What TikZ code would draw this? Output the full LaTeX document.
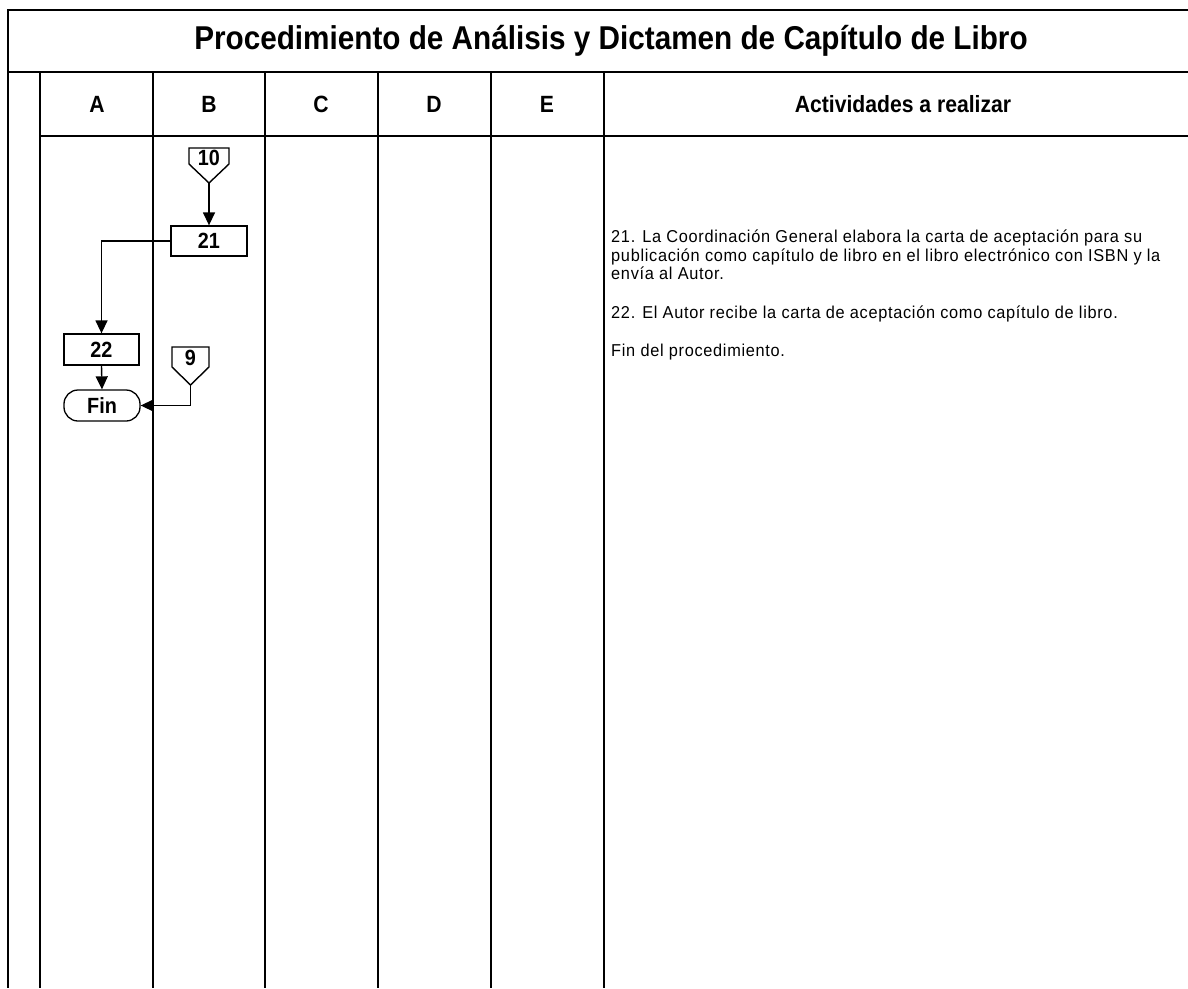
\documentclass[tikz,border=0pt]{standalone}
\usepackage{fontspec}
\setmainfont{Liberation Sans}
\newfontfamily\narrowfont{Liberation Sans}[FakeStretch=0.9]
\newfontfamily\bodyfont{Liberation Sans}[FakeStretch=0.95,LetterSpace=4]
\usetikzlibrary{arrows.meta,positioning}
\tikzset{
  frame/.style={line width=1.8pt,black},
  conn/.style={line width=1.4pt,black},
  arr/.style={conn,-{Triangle[length=13pt,width=12pt]}},
  boxnode/.style={draw,line width=1.3pt,minimum width=76pt,minimum height=30pt,inner sep=0pt,font=\narrowfont\fontsize{22}{22}\selectfont\bfseries},
  finnode/.style={boxnode,rounded corners=14pt},
  lbl/.style={inner sep=0pt,font=\narrowfont\fontsize{22}{22}\selectfont\bfseries},
  hdr/.style={inner sep=0pt,font=\narrowfont\fontsize{23.5}{23.5}\selectfont\bfseries},
  ttl/.style={inner sep=0pt,font=\narrowfont\fontsize{33}{33}\selectfont\bfseries},
  body/.style={inner sep=0pt,anchor=north west,align=left,font=\bodyfont\fontsize{17.2}{18.8}\selectfont}
}
\begin{document}
\begin{tikzpicture}[x=1pt,y=-1pt]
\useasboundingbox[fill=white] (0,0) rectangle (1188,988);
% frame
\draw[frame] (1188,10) -- (8,10) -- (8,988);
\draw[frame] (8,72) -- (1188,72);
\draw[frame] (40,136) -- (1188,136);
\foreach \x in {40,153,265,378,491,604} \draw[frame] (\x,72) -- (\x,988);
% title and headers
\node[ttl] (title) at (611,41) {Procedimiento de Análisis y Dictamen de Capítulo de Libro};
\node[hdr] (hA) at (97,104) {A};
\node[hdr] (hB) at (209,104) {B};
\node[hdr] (hC) at (321,104) {C};
\node[hdr] (hD) at (434,104) {D};
\node[hdr] (hE) at (547,104) {E};
\node[hdr] (hAct) at (903,104) {Actividades a realizar};
% off-page connector 10
\coordinate (t10) at (209,183);
\draw[conn,fill=white] (189,148) -- (229,148) -- (229,164) -- (t10) -- (189,164) -- cycle;
\node[lbl] (c10) at (209,157.5) {10};
% box 21
\node[boxnode] (b21) at (209,241) {21};
% box 22
\node[boxnode,minimum width=75pt,minimum height=31pt] (b22) at (101.5,349.5) {22};
% Fin
\node[finnode,minimum height=31pt] (fin) at (102,405.5) {Fin};
% off-page connector 9
\coordinate (t9) at (190.5,385);
\draw[conn,fill=white] (172,347) -- (209,347) -- (209,367) -- (t9) -- (172,367) -- cycle;
\node[lbl] (c9) at (190.5,358) {9};
% connectors
\draw[arr] (t10) -- (b21.north);
\draw[arr] (b21.west) -| (b22.north);
\draw[arr] (b22.south) -- (fin.north);
\draw[arr] (t9) |- (fin.east);
% activities
\node[body] (act21) at (611,226) {\rule{0pt}{16pt}21. La Coordinación General elabora la carta de aceptación para su\\publicación como capítulo de libro en el libro electrónico con ISBN y la\\envía al Autor.};
\node[body] (act22) at (611,302) {\rule{0pt}{16pt}22. El Autor recibe la carta de aceptación como capítulo de libro.};
\node[body] (actfin) at (611,340) {\rule{0pt}{16pt}Fin del procedimiento.};
\end{tikzpicture}
\end{document}
